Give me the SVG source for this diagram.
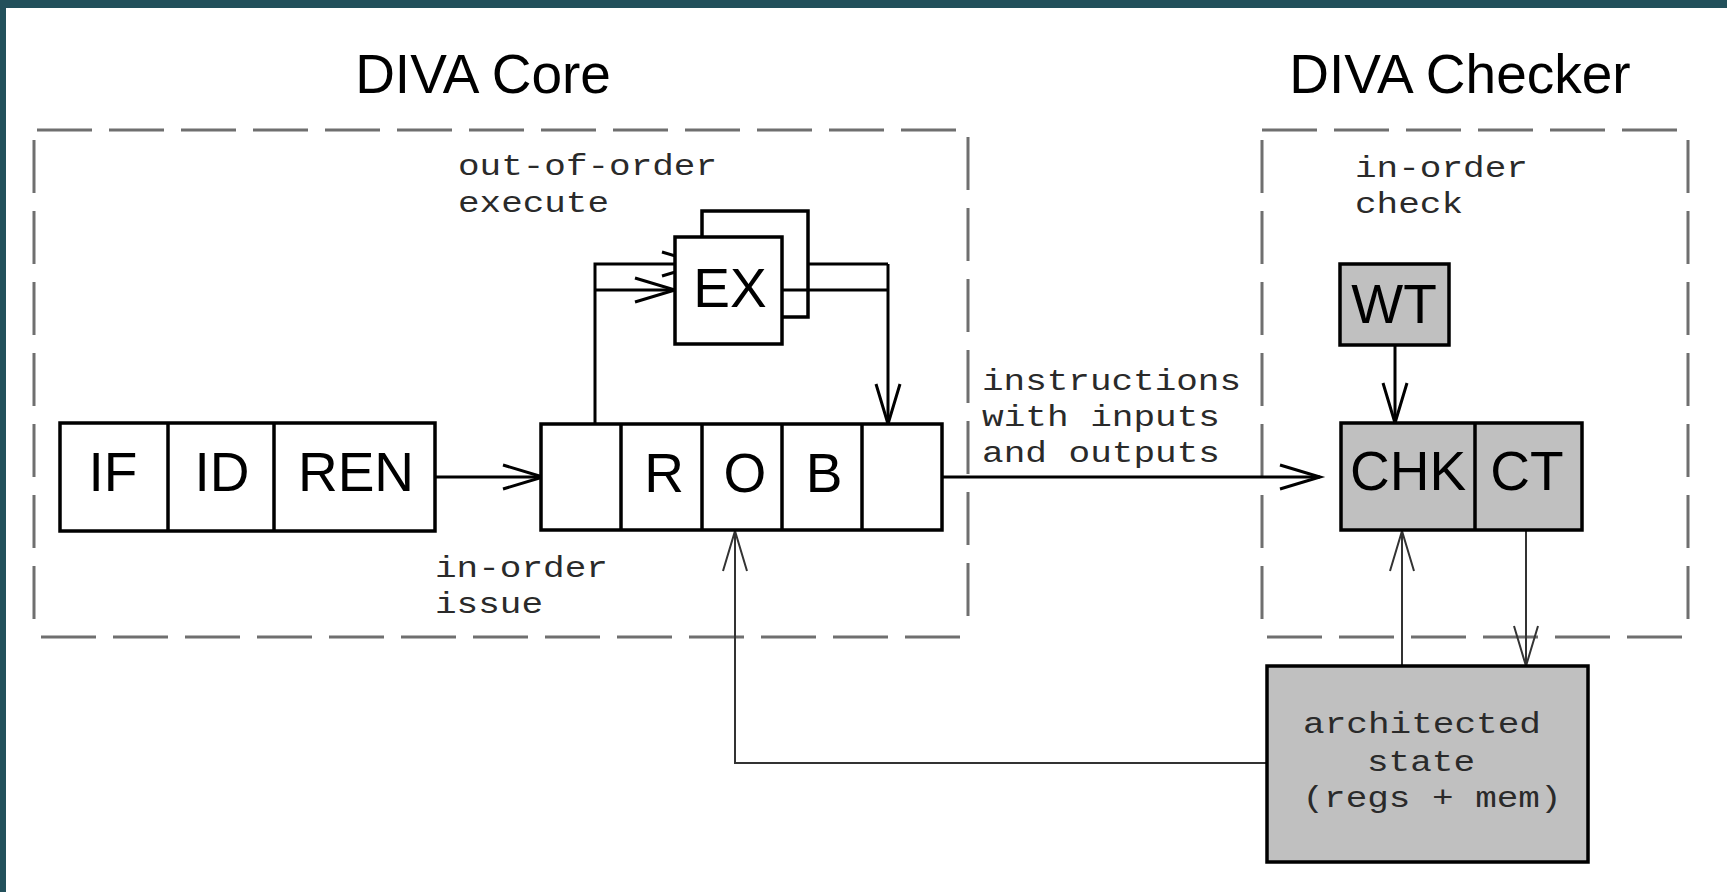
<svg xmlns="http://www.w3.org/2000/svg" width="1727" height="892" viewBox="0 0 1727 892">
<style>
.bg{fill:#22505b}
.dash{stroke:#6f6f6f;stroke-width:3;fill:none}
.dh{stroke-dasharray:55 17}
.dv{stroke-dasharray:53 18}
.box{fill:#fff;stroke:#000;stroke-width:3.5}
.gbox{fill:#c0c0c0;stroke:#000;stroke-width:3.5}
.cell{stroke:#000;stroke-width:3.5}
.wire{fill:none;stroke:#000;stroke-width:3}
.thin{fill:none;stroke:#333;stroke-width:2}
.big{font-family:"Liberation Sans",Arial,sans-serif;font-size:55px;fill:#000;text-anchor:middle}
.mono{font-family:"Liberation Mono","Courier New",monospace;font-size:30px;fill:#2a2a2a}
.monoc{font-family:"Liberation Mono","Courier New",monospace;font-size:30px;fill:#2a2a2a;text-anchor:middle}
</style>
<defs>
<marker id="arr" markerUnits="userSpaceOnUse" viewBox="-45 -15 50 30" markerWidth="50" markerHeight="30" refX="0" refY="0" orient="auto" overflow="visible">
<path d="M-40,-12 L0,0 L-40,12" fill="none" stroke="#000" stroke-width="3"/>
</marker>
<marker id="arrT" markerUnits="userSpaceOnUse" viewBox="-45 -15 50 30" markerWidth="50" markerHeight="30" refX="0" refY="0" orient="auto" overflow="visible">
<path d="M-40,-12 L0,0 L-40,12" fill="none" stroke="#333" stroke-width="2"/>
</marker>
</defs>
<rect class="bg" x="0" y="0" width="1727" height="892"/>
<rect x="6" y="8" width="1721" height="884" fill="#fff"/>

<g id="core-region">
<line class="dash dh" x1="37" y1="130" x2="960" y2="130"/>
<line class="dash dv" x1="34" y1="140" x2="34" y2="627"/>
<line class="dash dh" x1="41" y1="637" x2="963" y2="637"/>
<line class="dash dv" x1="968" y1="137" x2="968" y2="624"/>
<text class="big" x="483" y="93">DIVA Core</text>
<text class="mono" x="458" y="175" textLength="259" lengthAdjust="spacingAndGlyphs">out-of-order</text>
<text class="mono" x="458" y="212" textLength="151" lengthAdjust="spacingAndGlyphs">execute</text>
<text class="mono" x="435" y="577" textLength="173" lengthAdjust="spacingAndGlyphs">in-order</text>
<text class="mono" x="435" y="613" textLength="108" lengthAdjust="spacingAndGlyphs">issue</text>
</g>

<g id="checker-region">
<line class="dash dh" x1="1262" y1="130" x2="1680" y2="130"/>
<line class="dash dv" x1="1262" y1="140" x2="1262" y2="624"/>
<line class="dash dh" x1="1267" y1="637" x2="1682" y2="637"/>
<line class="dash dv" x1="1688" y1="140" x2="1688" y2="626"/>
<text class="big" x="1460" y="93">DIVA Checker</text>
<text class="mono" x="1355" y="177" textLength="173" lengthAdjust="spacingAndGlyphs">in-order</text>
<text class="mono" x="1355" y="213" textLength="108" lengthAdjust="spacingAndGlyphs">check</text>
</g>

<g id="connectors">
<line class="wire" x1="435" y1="477" x2="543" y2="477" marker-end="url(#arr)"/>
<polyline class="wire" points="595,424 595,264 702,264" marker-end="url(#arr)"/>
<line class="wire" x1="595" y1="290" x2="675" y2="290" marker-end="url(#arr)"/>
<line class="wire" x1="808" y1="264" x2="888" y2="264"/>
<polyline class="wire" points="782,290 888,290"/>
<line class="wire" x1="888" y1="264" x2="888" y2="424" marker-end="url(#arr)"/>
<line class="wire" x1="942" y1="477" x2="1320" y2="477" marker-end="url(#arr)"/>
<line class="wire" x1="1395" y1="345" x2="1395" y2="423" marker-end="url(#arr)"/>
<line class="thin" x1="1402" y1="666" x2="1402" y2="531" marker-end="url(#arrT)"/>
<line class="thin" x1="1526" y1="531" x2="1526" y2="666" marker-end="url(#arrT)"/>
<polyline class="thin" points="1267,763 735,763 735,531" marker-end="url(#arrT)"/>
<text class="mono" x="982" y="390" textLength="259" lengthAdjust="spacingAndGlyphs">instructions</text>
<text class="mono" x="982" y="426" textLength="238" lengthAdjust="spacingAndGlyphs">with inputs</text>
<text class="mono" x="982" y="462" textLength="238" lengthAdjust="spacingAndGlyphs">and outputs</text>
</g>

<g id="frontend">
<rect class="box" x="60" y="423" width="375" height="108"/>
<line class="cell" x1="168" y1="423" x2="168" y2="531"/>
<line class="cell" x1="274" y1="423" x2="274" y2="531"/>
<text class="big" x="113" y="491">IF</text>
<text class="big" x="222" y="491">ID</text>
<text class="big" x="356" y="491">REN</text>
</g>

<g id="ex">
<rect x="702" y="211" width="106" height="106" fill="none" stroke="#000" stroke-width="3.5"/>
<rect class="box" x="675" y="237" width="107" height="107"/>
<text class="big" x="730" y="307">EX</text>
</g>

<g id="rob">
<rect class="box" x="541" y="424" width="401" height="106"/>
<line class="cell" x1="621" y1="424" x2="621" y2="530"/>
<line class="cell" x1="702" y1="424" x2="702" y2="530"/>
<line class="cell" x1="782" y1="424" x2="782" y2="530"/>
<line class="cell" x1="862" y1="424" x2="862" y2="530"/>
<text class="big" x="664" y="492">R</text>
<text class="big" x="745" y="492">O</text>
<text class="big" x="824" y="492">B</text>
</g>

<g id="wt">
<rect class="gbox" x="1340" y="264" width="109" height="81"/>
<text class="big" x="1394" y="323">WT</text>
</g>

<g id="chk-ct">
<rect class="gbox" x="1341" y="423" width="241" height="107"/>
<line class="cell" x1="1475" y1="423" x2="1475" y2="530"/>
<text class="big" x="1408" y="490">CHK</text>
<text class="big" x="1527" y="490">CT</text>
</g>

<g id="arch-state">
<rect class="gbox" x="1267" y="666" width="321" height="196" stroke-width="4.5"/>
<text class="monoc" x="1422" y="733" textLength="238" lengthAdjust="spacingAndGlyphs">architected</text>
<text class="monoc" x="1421" y="771" textLength="108" lengthAdjust="spacingAndGlyphs">state</text>
<text class="monoc" x="1432" y="807" textLength="259" lengthAdjust="spacingAndGlyphs">(regs + mem)</text>
</g>
</svg>
